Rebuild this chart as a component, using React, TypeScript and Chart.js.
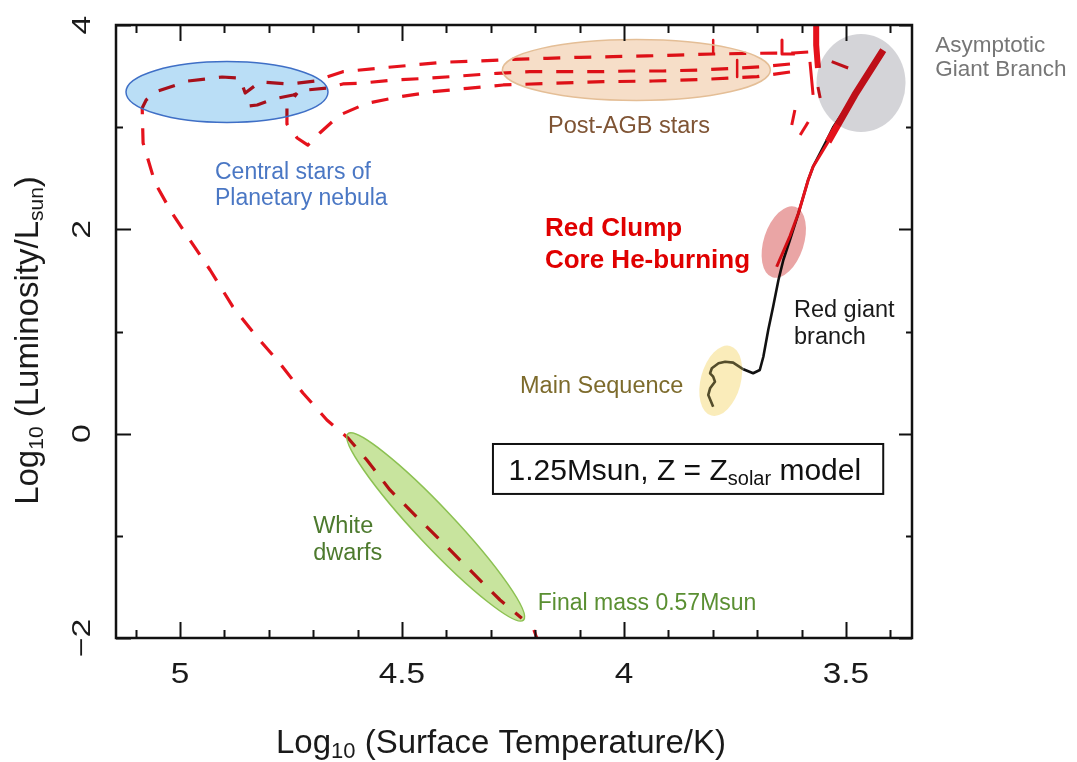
import React, { useEffect, useRef } from "react";
import { Chart, registerables } from "chart.js";

Chart.register(...registerables);

// ---------- Evolution track data: log10 Teff (K), log10 L/Lsun ----------
const msTeff = [3.799, 3.81, 3.806, 3.795, 3.799, 3.806, 3.802, 3.787, 3.772, 3.754, 3.731];
const msLum = [0.264, 0.379, 0.444, 0.509, 0.558, 0.591, 0.64, 0.689, 0.704, 0.695, 0.63];

const rgbTeff = [3.731, 3.709, 3.694, 3.686, 3.675, 3.664, 3.652, 3.641, 3.626, 3.607, 3.585, 3.574, 3.543, 3.528, 3.498, 3.461, 3.416];
const rgbLum = [0.63, 0.591, 0.623, 0.753, 1.015, 1.243, 1.504, 1.7, 1.896, 2.157, 2.483, 2.613, 2.874, 3.005, 3.2, 3.429, 3.723];

const clumpTeff = [3.656, 3.626, 3.607, 3.585, 3.574, 3.54];
const clumpLum = [1.634, 1.935, 2.157, 2.483, 2.613, 2.858];

const agbTeff = [3.54, 3.48, 3.416];
const agbLum = [2.858, 3.315, 3.755];

// post-AGB track that ends on the white-dwarf cooling sequence
const postATeff = [3.585, 3.619, 3.709, 3.799, 3.881, 3.948, 4.025, 4.099, 4.173, 4.25, 4.324, 4.408, 4.475, 4.556, 4.633, 4.696, 4.752, 4.82, 4.853, 4.865, 4.905, 4.944, 4.982, 5.022, 5.056, 5.076, 5.085, 5.083, 5.056, 5.018, 4.982, 4.932, 4.881, 4.827, 4.775, 4.723, 4.669, 4.621, 4.579, 4.527, 4.467, 4.399, 4.332, 4.279, 4.23];
const postALum = [3.736, 3.726, 3.723, 3.716, 3.706, 3.697, 3.69, 3.684, 3.674, 3.664, 3.648, 3.635, 3.608, 3.576, 3.543, 3.452, 3.423, 3.442, 3.334, 3.481, 3.491, 3.471, 3.452, 3.393, 3.344, 3.266, 3.188, 2.845, 2.454, 2.16, 1.925, 1.602, 1.243, 0.949, 0.689, 0.398, 0.134, -0.045, -0.258, -0.551, -0.813, -1.106, -1.4, -1.628, -1.807];

const postBTeff = [3.626, 3.687, 3.754, 3.829, 3.912, 3.986, 4.061, 4.137, 4.212, 4.286, 4.369, 4.444, 4.52, 4.594, 4.633, 4.669, 4.714, 4.745, 4.79, 4.826, 4.865];
const postBLum = [3.618, 3.592, 3.576, 3.56, 3.55, 3.55, 3.543, 3.543, 3.543, 3.527, 3.501, 3.478, 3.462, 3.429, 3.423, 3.383, 3.364, 3.315, 3.276, 3.217, 3.197];

const postCTeff = [3.626, 3.7, 3.813, 3.935, 4.047, 4.16, 4.272, 4.353, 4.43, 4.504, 4.579, 4.64, 4.685, 4.712, 4.736, 4.759, 4.759, 4.736];
const postCLum = [3.54, 3.494, 3.469, 3.452, 3.445, 3.429, 3.413, 3.38, 3.347, 3.298, 3.234, 3.119, 2.943, 2.825, 2.894, 3.031, 3.197, 3.334];

// thermal-pulse fragments
const pulseMainTeff = [3.567, 3.567, 3.563];
const pulseMainLum = [3.99, 3.804, 3.579];
const pulseBTeff = [3.581, 3.574];
const pulseBLum = [3.638, 3.315];
const pulseCTeff = [3.563, 3.558];
const pulseCLum = [3.393, 3.286];
const pulseDTeff = [3.644, 3.644, 3.615];
const pulseDLum = [3.853, 3.716, 3.716];
const pulseETeff = [3.799, 3.799];
const pulseELum = [3.853, 3.726];
const pulseFTeff = [3.745, 3.745];
const pulseFLum = [3.657, 3.491];
const dashGTeff = [3.615, 3.622];
const dashGLum = [3.168, 3.021];
const dashHTeff = [3.585, 3.603];
const dashHLum = [3.051, 2.923];
const dashITeff = [3.532, 3.495];
const dashILum = [3.641, 3.579];
const tailTeff = [4.203, 4.196];
const tailLum = [-1.922, -2.0];

// ---------- axes ----------
const xMin = 3.3512;
const xMax = 5.144;
const yMin = -2;
const yMax = 4;
const xTickLabels = ["5", "4.5", "4", "3.5"];
const xTickValues = [5, 4.5, 4, 3.5];
const yTickLabels = ["\u22122", "0", "2", "4"];
const yTickValues = [-2, 0, 2, 4];

// ---------- annotation regions (centre in data units) ----------
const REGIONS = [
  { cx: 4.894, cy: 3.344, rx: 101, ry: 30.5, rot: 0, fill: "rgb(186,222,246)", stroke: "#3f6fc6" },
  { cx: 3.972, cy: 3.56, rx: 134, ry: 30.5, rot: 0, fill: "rgb(246,222,200)", stroke: "rgb(228,190,150)" },
  { cx: 3.466, cy: 3.432, rx: 44.5, ry: 49, rot: 0, fill: "rgb(212,212,216)", stroke: null },
  { cx: 3.64, cy: 1.876, rx: 20, ry: 37, rot: 18, fill: "rgb(234,165,165)", stroke: null },
  { cx: 3.782, cy: 0.518, rx: 20, ry: 36, rot: 15, fill: "rgb(250,236,186)", stroke: null },
  { cx: 4.424, cy: -0.913, rx: 128, ry: 19, rot: 46.7, fill: "rgb(200,228,158)", stroke: "#8cc152" },
];

const LABELS = [
  { lines: ["Central stars of", "Planetary nebula"], x: 4.921, y: 2.493, size: 23, color: "#4a77c4", lh: 26, bold: false },
  { lines: ["Post-AGB stars"], x: 4.171, y: 2.94, size: 23.5, color: "#7f5434", lh: 26, bold: false },
  { lines: ["Red Clump", "Core He-burning"], x: 4.178, y: 1.935, size: 26, color: "#e00000", lh: 32, bold: true },
  { lines: ["Red giant", "branch"], x: 3.617, y: 1.139, size: 23.5, color: "#1a1a1a", lh: 27, bold: false },
  { lines: ["Main Sequence"], x: 4.234, y: 0.395, size: 23.5, color: "#7d6b2c", lh: 26, bold: false },
  { lines: ["White", "dwarfs"], x: 4.7, y: -0.969, size: 23.5, color: "#4d7a2e", lh: 27, bold: false },
  { lines: ["Final mass 0.57Msun"], x: 4.194, y: -1.726, size: 23, color: "#5a8f32", lh: 26, bold: false },
  { lines: ["Asymptotic", "Giant Branch"], x: 3.299, y: 3.731, size: 22.5, color: "#767676", lh: 24, bold: false },
];

const BOX = { x0: 4.295, x1: 3.416, y0: -0.101, y1: -0.59, tx: 4.26, ty: -0.453 };

const FONT = '"Liberation Sans", Arial, Helvetica, sans-serif';
const RED = "#e5121c";

function font(size: number, bold = false) {
  return `${bold ? "bold " : ""}${size}px ${FONT}`;
}

type Part = { t: string; size: number; dy?: number };

function drawRich(ctx: CanvasRenderingContext2D, parts: Part[], x: number, y: number, align: "left" | "center") {
  let total = 0;
  const widths: number[] = [];
  for (const p of parts) {
    ctx.font = font(p.size);
    const w = ctx.measureText(p.t).width;
    widths.push(w);
    total += w;
  }
  let cx = align === "center" ? x - total / 2 : x;
  ctx.textAlign = "left";
  parts.forEach((p, i) => {
    ctx.font = font(p.size);
    ctx.fillText(p.t, cx, y + (p.dy || 0));
    cx += widths[i];
  });
}

function pts(xs: number[], ys: number[]) {
  return xs.map((x, i) => ({ x, y: ys[i] }));
}

const hrPlugin = {
  id: "hrDecor",
  beforeDraw(chart: any) {
    const ctx = chart.ctx as CanvasRenderingContext2D;
    ctx.save();
    ctx.fillStyle = "#ffffff";
    ctx.fillRect(0, 0, chart.width, chart.height);
    ctx.restore();
  },
  afterDatasetsDraw(chart: any) {
    const ctx = chart.ctx as CanvasRenderingContext2D;
    const a = chart.chartArea;
    const xs = chart.scales.x;
    const ys = chart.scales.y;

    // translucent (multiplied) regions over the tracks
    for (const r of REGIONS) {
      ctx.save();
      ctx.beginPath();
      ctx.ellipse(xs.getPixelForValue(r.cx), ys.getPixelForValue(r.cy), r.rx, r.ry, (r.rot * Math.PI) / 180, 0, Math.PI * 2);
      ctx.globalCompositeOperation = "multiply";
      ctx.fillStyle = r.fill;
      ctx.fill();
      ctx.globalCompositeOperation = "source-over";
      if (r.stroke) {
        ctx.strokeStyle = r.stroke;
        ctx.lineWidth = 1.5;
        ctx.stroke();
      }
      ctx.restore();
    }

    // frame + inward ticks
    ctx.save();
    ctx.strokeStyle = "#111";
    ctx.lineWidth = 2;
    ctx.beginPath();
    for (let i = 34; i <= 51; i++) {
      const v = i / 10;
      const px = Math.round(xs.getPixelForValue(v)) + 0.5;
      const len = i % 5 === 0 ? 16 : 8;
      ctx.moveTo(px, a.bottom);
      ctx.lineTo(px, a.bottom - len);
      ctx.moveTo(px, a.top);
      ctx.lineTo(px, a.top + len);
    }
    for (let v = -2; v <= 4; v++) {
      const py = Math.round(ys.getPixelForValue(v)) + 0.5;
      const major = Math.abs(v) % 2 === 0;
      ctx.moveTo(a.left, py);
      ctx.lineTo(a.left + (major ? 15 : 7), py);
      ctx.moveTo(a.right, py);
      ctx.lineTo(a.right - (major ? 13 : 6), py);
    }
    ctx.stroke();
    ctx.lineWidth = 2.5;
    ctx.strokeRect(a.left, a.top, a.right - a.left, a.bottom - a.top);
    ctx.restore();

    // tick labels
    ctx.save();
    ctx.fillStyle = "#1a1a1a";
    ctx.textBaseline = "alphabetic";
    xTickValues.forEach((v, i) => {
      const px = xs.getPixelForValue(v);
      ctx.save();
      ctx.translate(px, a.bottom + 45);
      ctx.scale(1.15, 1);
      ctx.font = font(29);
      ctx.textAlign = "center";
      ctx.fillText(xTickLabels[i], 0, 0);
      ctx.restore();
    });
    yTickValues.forEach((v, i) => {
      const py = ys.getPixelForValue(v);
      ctx.save();
      ctx.translate(a.left - 26, py);
      ctx.rotate(-Math.PI / 2);
      ctx.scale(1.3, 1);
      ctx.font = font(26);
      ctx.textAlign = "center";
      ctx.fillText(yTickLabels[i], 0, 0);
      ctx.restore();
    });
    ctx.restore();

    // axis titles
    ctx.save();
    ctx.fillStyle = "#1a1a1a";
    drawRich(
      ctx,
      [
        { t: "Log", size: 33 },
        { t: "10", size: 22, dy: 5 },
        { t: " (Surface Temperature/K)", size: 33 },
      ],
      501,
      753,
      "center"
    );
    ctx.translate(38, (a.top + a.bottom) / 2 + 9);
    ctx.rotate(-Math.PI / 2);
    drawRich(
      ctx,
      [
        { t: "Log", size: 33 },
        { t: "10", size: 21, dy: 5 },
        { t: " (Luminosity/L", size: 33 },
        { t: "sun", size: 21, dy: 5 },
        { t: ")", size: 33 },
      ],
      0,
      0,
      "center"
    );
    ctx.restore();

    // region labels
    ctx.save();
    ctx.textAlign = "left";
    ctx.textBaseline = "alphabetic";
    for (const l of LABELS) {
      ctx.font = font(l.size, l.bold);
      ctx.fillStyle = l.color;
      const px = xs.getPixelForValue(l.x);
      const py = ys.getPixelForValue(l.y);
      l.lines.forEach((s, i) => ctx.fillText(s, px, py + i * l.lh));
    }
    ctx.restore();

    // model box
    ctx.save();
    const bx0 = xs.getPixelForValue(BOX.x0);
    const bx1 = xs.getPixelForValue(BOX.x1);
    const by0 = ys.getPixelForValue(BOX.y0);
    const by1 = ys.getPixelForValue(BOX.y1);
    ctx.fillStyle = "#ffffff";
    ctx.fillRect(bx0, by0, bx1 - bx0, by1 - by0);
    ctx.strokeStyle = "#111";
    ctx.lineWidth = 2;
    ctx.strokeRect(bx0, by0, bx1 - bx0, by1 - by0);
    ctx.fillStyle = "#111";
    drawRich(
      ctx,
      [
        { t: "1.25Msun, Z = Z", size: 30 },
        { t: "solar", size: 20, dy: 5 },
        { t: " model", size: 30 },
      ],
      xs.getPixelForValue(BOX.tx),
      ys.getPixelForValue(BOX.ty),
      "left"
    );
    ctx.restore();
  },
};

function line(data: { x: number; y: number }[], color: string, width: number, order: number, dash: number[] = []) {
  return {
    data,
    showLine: true,
    borderColor: color,
    backgroundColor: color,
    borderWidth: width,
    borderDash: dash,
    borderCapStyle: "butt" as const,
    borderJoinStyle: "round" as const,
    pointRadius: 0,
    pointHoverRadius: 0,
    tension: 0,
    fill: false,
    order,
  };
}

export default function App() {
  const ref = useRef<HTMLCanvasElement | null>(null);

  useEffect(() => {
    if (!ref.current) return;
    const dash = [17, 14];
    const datasets = [
      line(pts(postATeff, postALum), RED, 3.2, 1, dash),
      line(pts(postBTeff, postBLum), RED, 3.2, 1, dash),
      line(pts(postCTeff, postCLum), RED, 3.2, 1, dash),
      line(pts(agbTeff, agbLum), RED, 7, 2),
      line(pts(clumpTeff, clumpLum), RED, 3, 2),
      line(pts(pulseMainTeff, pulseMainLum), RED, 6, 2),
      line(pts(pulseBTeff, pulseBLum), RED, 3, 2),
      line(pts(pulseCTeff, pulseCLum), RED, 3, 2),
      line(pts(pulseDTeff, pulseDLum), RED, 3, 2),
      line(pts(pulseETeff, pulseELum), RED, 2.5, 2),
      line(pts(pulseFTeff, pulseFLum), RED, 2.5, 2),
      line(pts(dashGTeff, dashGLum), RED, 3, 2),
      line(pts(dashHTeff, dashHLum), RED, 3, 2),
      line(pts(dashITeff, dashILum), RED, 3, 2),
      line(pts(tailTeff, tailLum), RED, 3, 2),
      line(pts(rgbTeff, rgbLum), "#111111", 2.6, 5),
      line(pts(msTeff, msLum), "#55533a", 2.6, 5),
    ];
    const chart = new Chart(ref.current, {
      type: "scatter",
      data: { datasets: datasets as any },
      options: {
        animation: false,
        responsive: false,
        events: [],
        layout: { padding: { left: 116, top: 25, right: 165, bottom: 124 } },
        plugins: { legend: { display: false }, tooltip: { enabled: false } },
        scales: {
          x: { type: "linear", reverse: true, min: xMin, max: xMax, display: false },
          y: { type: "linear", min: yMin, max: yMax, display: false },
        },
      },
      plugins: [hrPlugin],
    } as any);
    return () => chart.destroy();
  }, []);

  return (
    <div style={{ position: "absolute", left: 0, top: 0, width: 1077, height: 762, background: "#fff" }}>
      <canvas ref={ref} width={1077} height={762} style={{ display: "block", width: 1077, height: 762 }} />
    </div>
  );
}
